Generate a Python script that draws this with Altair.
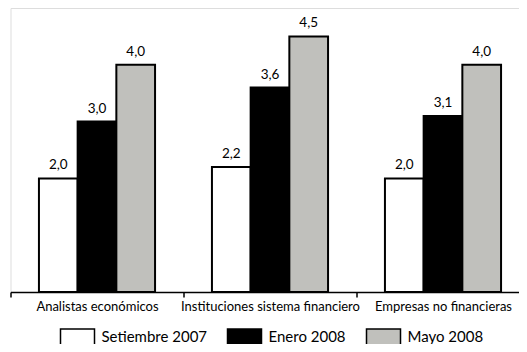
import altair as alt
import pandas as pd

categories = ["Analistas económicos", "Instituciones sistema financiero", "Empresas no financieras"]
series = ["Setiembre 2007", "Enero 2008", "Mayo 2008"]
values_sep2007 = [2.0, 2.2, 2.0]
values_ene2008 = [3.0, 3.6, 3.1]
values_may2008 = [4.0, 4.5, 4.0]
colors = ["#ffffff", "#000000", "#c0c0bc"]

rows = []
for s, vals in zip(series, [values_sep2007, values_ene2008, values_may2008]):
    for c, v in zip(categories, vals):
        rows.append({"cat": c, "serie": s, "v": v})
df = pd.DataFrame(rows)

FONT = "Lato"

x = alt.X("cat:N", sort=categories, title=None,
          scale=alt.Scale(paddingInner=0, paddingOuter=0),
          axis=alt.Axis(labelAngle=0, tickBand="extent", domainColor="black",
                        domainWidth=1.5, tickColor="black", tickWidth=1.5, tickSize=5,
                        labelFont=FONT, labelFontSize=13, labelColor="black",
                        labelPadding=3, grid=False))
xo = alt.XOffset("serie:N", sort=series,
                 scale=alt.Scale(paddingInner=0, paddingOuter=0.735))
y = alt.Y("v:Q", scale=alt.Scale(domain=[0, 5], nice=False), axis=None)

bars = alt.Chart(df).mark_bar(stroke="black", strokeWidth=2).encode(
    x=x, xOffset=xo, y=y,
    color=alt.Color("serie:N", sort=series,
                    scale=alt.Scale(domain=series, range=colors),
                    legend=alt.Legend(title=None, orient="none", direction="horizontal",
                                      columns=3, legendX=58, legendY=320,
                                      symbolType="M-2.125,-1L2.125,-1L2.125,1L-2.125,1Z",
                                      symbolSize=256,
                                      symbolStrokeColor="black", symbolStrokeWidth=1.5,
                                      symbolOpacity=1,
                                      labelFont=FONT, labelFontSize=15, labelColor="black",
                                      labelOffset=15, columnPadding=17, padding=0)),
)

labels = alt.Chart(df).transform_calculate(
    lab="replace(format(datum.v, '.1f'), '.', ',')"
).mark_text(baseline="bottom", dy=-6, font=FONT, fontSize=13.5, color="black").encode(
    x=x, xOffset=xo, y=y, text="lab:N"
)

chart = (bars + labels).properties(
    width=519, height=284,
    autosize=alt.AutoSizeParams(type="none"),
    padding={"left": 2.5, "top": 0, "right": -10.5, "bottom": 52},
).configure_view(stroke=None).configure(background="white")

chart.save("out.html", embed_options={"renderer": "svg", "actions": False})
